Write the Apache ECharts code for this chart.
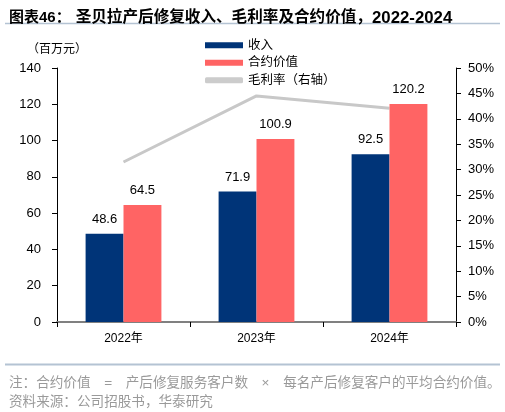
<!DOCTYPE html>
<html>
<head>
<meta charset="utf-8">
<style>
  html, body { margin: 0; padding: 0; background: #fff; }
  #chart-container { width: 505px; height: 412px; }
</style>
<script src="https://cdn.jsdelivr.net/npm/echarts@6/dist/echarts.min.js"></script>
</head>
<body>
<div id="chart-container"></div>
<script>
var years = ['2022年', '2023年', '2024年'];
var revenue = [48.6, 71.9, 92.5];
var contractValue = [64.5, 100.9, 120.2];
var grossMargin = [31.5, 44.5, 42.1];

var dom = document.getElementById('chart-container');
var myChart = echarts.init(dom, null, { renderer: 'canvas' });

var numFont = 'Liberation Sans, Arial, sans-serif';
var cjkFont = 'Liberation Sans, Noto Sans CJK SC, sans-serif';

var option = {
    animation: false,
    title: [
        {
            text: '{a|图表46：} {b|圣贝拉产后修复收入、毛利率及合约价值，}{c|2022-2024}',
            left: 4,
            top: 4,
            textStyle: {
                rich: {
                    a: { fontSize: 15, fontWeight: 'bold', color: '#000', fontFamily: cjkFont },
                    b: { fontSize: 15.6, fontWeight: 'bold', color: '#000', fontFamily: cjkFont },
                    c: { fontSize: 16.8, fontWeight: 'bold', color: '#000', fontFamily: numFont }
                }
            }
        },
        {
            text: '（百万元）',
            left: 22,
            top: 39,
            textStyle: { fontSize: 12, fontWeight: 'normal', color: '#000', fontFamily: cjkFont }
        },
        {
            text: '注：合约价值　=　产后修复服务客户数　×　每名产后修复客户的平均合约价值。',
            left: 4,
            top: 371,
            textStyle: { fontSize: 13.6, fontWeight: 'normal', color: '#9a9a9a', fontFamily: cjkFont }
        },
        {
            text: '资料来源：公司招股书，华泰研究',
            left: 4,
            top: 390,
            textStyle: { fontSize: 13.6, fontWeight: 'normal', color: '#9a9a9a', fontFamily: cjkFont }
        }
    ],
    graphic: [
        {
            type: 'line',
            shape: { x1: 5, y1: 23.5, x2: 500, y2: 23.5 },
            style: { stroke: '#b4c3d3', lineWidth: 1.5 }
        },
        {
            type: 'line',
            shape: { x1: 5, y1: 364.5, x2: 500, y2: 364.5 },
            style: { stroke: '#b4c3d3', lineWidth: 2 }
        }
    ],
    legend: {
        orient: 'vertical',
        left: 200,
        top: 34,
        itemWidth: 38,
        itemHeight: 6,
        itemGap: 5,
        textStyle: { fontSize: 12.5, color: '#000', fontFamily: cjkFont },
        data: [
            { name: '收入', icon: 'rect' },
            { name: '合约价值', icon: 'rect' },
            { name: '毛利率（右轴）', icon: 'roundRect' }
        ]
    },
    grid: { left: 57, right: 49, top: 68, bottom: 90 },
    xAxis: {
        type: 'category',
        data: years,
        axisLine: { lineStyle: { color: '#808080', width: 2 } },
        axisTick: { show: true, length: 5, lineStyle: { color: '#000' } },
        axisLabel: { fontSize: 12, color: '#000', margin: 11, fontFamily: cjkFont }
    },
    yAxis: [
        {
            type: 'value',
            min: 0,
            max: 140,
            interval: 20,
            axisLine: { show: true, lineStyle: { color: '#000' } },
            axisTick: { show: true, length: 5, lineStyle: { color: '#000' } },
            splitLine: { show: false },
            axisLabel: { fontSize: 13, color: '#000', margin: 16, fontFamily: numFont }
        },
        {
            type: 'value',
            min: 0,
            max: 50,
            interval: 5,
            axisLine: { show: true, lineStyle: { color: '#000' } },
            axisTick: { show: true, length: 5, lineStyle: { color: '#000' } },
            splitLine: { show: false },
            axisLabel: { fontSize: 13, color: '#000', margin: 12, formatter: '{value}%', fontFamily: numFont }
        }
    ],
    series: [
        {
            name: '收入',
            type: 'bar',
            data: revenue,
            barGap: '0%',
            barCategoryGap: '43%',
            itemStyle: { color: '#003478' },
            label: { show: true, position: 'top', distance: 8, fontSize: 13, color: '#000', fontFamily: numFont }
        },
        {
            name: '合约价值',
            type: 'bar',
            data: contractValue,
            itemStyle: { color: '#ff6464' },
            label: { show: true, position: 'top', distance: 8, fontSize: 13, color: '#000', fontFamily: numFont }
        },
        {
            name: '毛利率（右轴）',
            type: 'line',
            yAxisIndex: 1,
            data: grossMargin,
            symbol: 'none',
            z: 1,
            lineStyle: { color: '#c8c8c8', width: 3 },
            itemStyle: { color: '#cccccc' }
        }
    ]
};

if (option && typeof option === 'object') {
    myChart.setOption(option);
}

window.addEventListener('resize', myChart.resize);
</script>
</body>
</html>
